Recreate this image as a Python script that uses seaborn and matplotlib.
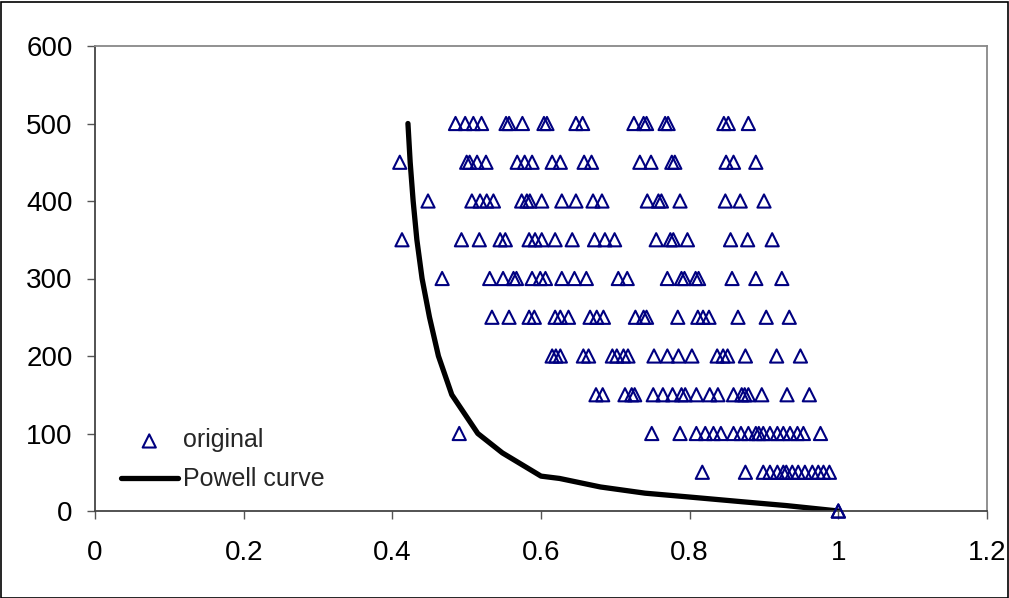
import seaborn as sns
import matplotlib.pyplot as plt
import numpy as np
import pandas as pd
from matplotlib.patches import Rectangle

# Data: one list of x values per y level
x_500 = [0.485, 0.498, 0.509, 0.520, 0.553, 0.557, 0.575, 0.604, 0.608, 0.647, 0.656,
         0.725, 0.738, 0.742, 0.767, 0.771, 0.846, 0.852, 0.879]
x_450 = [0.410, 0.500, 0.504, 0.514, 0.526, 0.568, 0.578, 0.588, 0.615, 0.626, 0.658,
         0.668, 0.733, 0.748, 0.776, 0.780, 0.849, 0.859, 0.889]
x_400 = [0.448, 0.507, 0.518, 0.527, 0.536, 0.574, 0.581, 0.585, 0.601, 0.628, 0.647,
         0.670, 0.682, 0.743, 0.758, 0.762, 0.787, 0.848, 0.868, 0.900]
x_350 = [0.413, 0.493, 0.517, 0.545, 0.552, 0.584, 0.592, 0.601, 0.619, 0.642, 0.672,
         0.686, 0.699, 0.755, 0.774, 0.778, 0.797, 0.855, 0.878, 0.911]
x_300 = [0.467, 0.531, 0.549, 0.563, 0.567, 0.588, 0.599, 0.606, 0.628, 0.645, 0.661,
         0.704, 0.716, 0.770, 0.789, 0.793, 0.808, 0.812, 0.857, 0.889, 0.924]
x_250 = [0.534, 0.557, 0.584, 0.591, 0.619, 0.626, 0.637, 0.666, 0.675, 0.684, 0.727,
         0.738, 0.742, 0.784, 0.811, 0.818, 0.826, 0.865, 0.903, 0.934]
x_200 = [0.615, 0.620, 0.626, 0.657, 0.664, 0.696, 0.702, 0.711, 0.717, 0.752, 0.770,
         0.785, 0.803, 0.837, 0.845, 0.851, 0.875, 0.917, 0.949]
x_150 = [0.674, 0.683, 0.713, 0.722, 0.726, 0.751, 0.764, 0.777, 0.789, 0.794, 0.809,
         0.827, 0.838, 0.859, 0.870, 0.874, 0.879, 0.897, 0.931, 0.961]
x_100 = [0.490, 0.749, 0.787, 0.809, 0.821, 0.832, 0.842, 0.859, 0.869, 0.879, 0.889,
         0.893, 0.899, 0.908, 0.918, 0.926, 0.935, 0.945, 0.953, 0.976]
x_50 = [0.817, 0.875, 0.899, 0.908, 0.918, 0.926, 0.930, 0.938, 0.946, 0.955, 0.965,
        0.973, 0.980, 0.988]
x_0 = [1.0, 1.0]

levels = {500: x_500, 450: x_450, 400: x_400, 350: x_350, 300: x_300, 250: x_250,
          200: x_200, 150: x_150, 100: x_100, 50: x_50, 0: x_0}

# Powell curve
powell_x = [0.421, 0.424, 0.428, 0.433, 0.440, 0.450, 0.462, 0.480, 0.515, 0.548,
            0.600, 0.625, 0.680, 0.740, 0.800, 0.870, 0.930, 1.000]
powell_y = [500, 450, 400, 350, 300, 250, 200, 150, 100, 75,
            45, 42, 31, 23, 18, 12, 7, 0]

x_ticks = [0, 0.2, 0.4, 0.6, 0.8, 1.0, 1.2]
x_tick_labels = ['0', '0.2', '0.4', '0.6', '0.8', '1', '1.2']
y_ticks = [0, 100, 200, 300, 400, 500, 600]

original = pd.DataFrame([(x, y) for y, xs in levels.items() for x in xs], columns=['x', 'y'])
powell = pd.DataFrame({'x': powell_x, 'y': powell_y})

sns.set_style("ticks")
plt.rcParams['font.family'] = ['Liberation Sans', 'DejaVu Sans']

W, H = 1009, 598
fig = plt.figure(figsize=(W / 100, H / 100), dpi=100)
ax = fig.add_axes([95 / W, 1 - 511 / H, (987 - 95) / W, (511 - 46) / H])

sns.lineplot(data=powell, x='x', y='y', sort=False, estimator=None,
             color='black', linewidth=3.8, label='Powell curve', ax=ax, zorder=2)
sns.scatterplot(data=original, x='x', y='y', marker='^', s=90,
                facecolors='none', edgecolor='#000080', linewidth=1.5,
                label='original', ax=ax, zorder=3, clip_on=False)

ax.set_xlim(0, 1.2)
ax.set_ylim(0, 600)
ax.set_xticks(x_ticks)
ax.set_xticklabels(x_tick_labels)
ax.set_yticks(y_ticks)
ax.set_xlabel('')
ax.set_ylabel('')
ax.tick_params(labelsize=20, labelcolor='black', color='#555555', length=6, width=1)
ax.tick_params(axis='x', pad=15)
ax.tick_params(axis='y', pad=10)

for side in ['left', 'bottom']:
    ax.spines[side].set_color('#444444')
    ax.spines[side].set_linewidth(1.3)
for side in ['top', 'right']:
    ax.spines[side].set_visible(True)
    ax.spines[side].set_color('#888888')
    ax.spines[side].set_linewidth(1.3)

handles, labels = ax.get_legend_handles_labels()
order = [labels.index('original'), labels.index('Powell curve')]
ax.legend([handles[i] for i in order], [labels[i] for i in order],
          loc='lower left', bbox_to_anchor=(108 / W, 1 - 504 / H),
          bbox_transform=fig.transFigure, frameon=False, fontsize=18,
          handlelength=2.3, handletextpad=0.2, labelspacing=0.6, borderpad=0)

fig.patches.append(Rectangle((0.5 / W, 0.5 / H), 1 - 2 / W, 1 - 2 / H,
                             transform=fig.transFigure, fill=False,
                             edgecolor='black', linewidth=1.2))

fig.savefig('out.png', dpi=100)
